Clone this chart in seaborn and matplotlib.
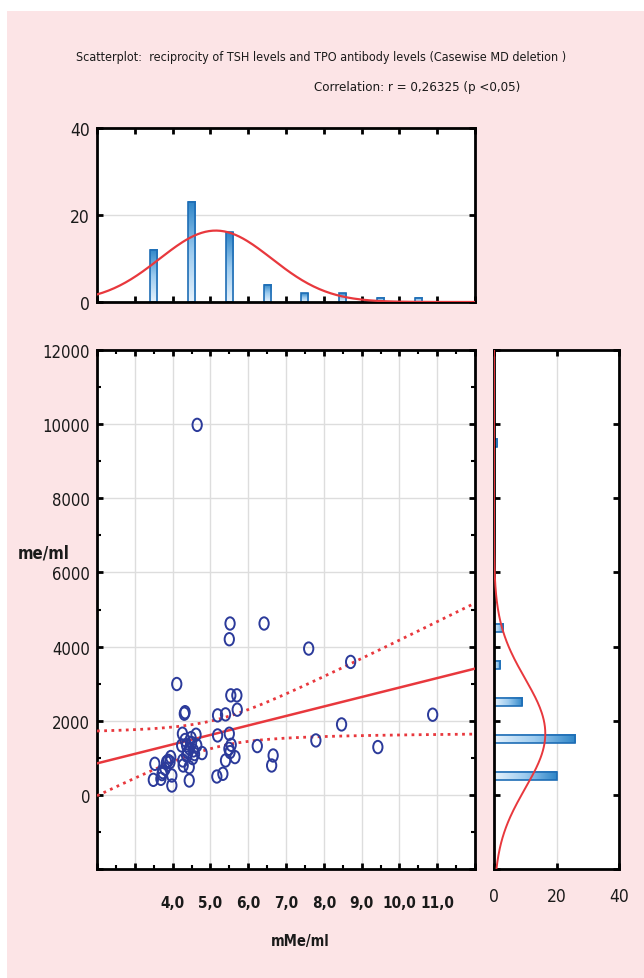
import numpy as np
import seaborn as sns
import matplotlib
matplotlib.use("Agg")
import matplotlib.pyplot as plt
from matplotlib.path import Path
from matplotlib.patches import Rectangle
from matplotlib.colors import LinearSegmentedColormap
from matplotlib.ticker import FixedLocator, MultipleLocator, FuncFormatter

# TSH (mMe/ml) vs TPO antibodies (me/ml)
tsh = [5.52, 5.50, 6.42, 7.60, 8.71, 4.11, 4.31, 4.33, 5.19, 5.40,
       5.54, 5.70, 5.71, 10.88, 8.47, 5.19, 5.50, 5.49, 6.24, 7.79,
       9.43, 6.66, 6.62, 5.65, 5.52, 5.40, 5.17, 5.33, 4.78, 4.62,
       4.49, 4.26, 4.24, 4.37, 4.55, 4.37, 4.27, 4.28, 4.44, 4.44,
       4.53, 4.64, 3.53, 3.49, 3.69, 3.74, 3.84, 3.93, 3.98, 3.98,
       3.80, 4.65, 4.45, 4.50, 4.40, 4.58, 4.33, 5.55, 3.88, 3.72,
       3.95]
tpo = [4622, 4198, 4622, 3946, 3586, 2990, 2189, 2230, 2144, 2171,
       2684, 2684, 2298, 2162, 1900, 1603, 1649, 1243, 1316, 1468,
       1289, 1062, 792, 1019, 1154, 927, 495, 568, 1127, 1622,
       1532, 1649, 1333, 1333, 1198, 1062, 927, 792, 748, 387,
       992, 1333, 838, 405, 432, 613, 883, 883, 522, 252,
       703, 9980, 1250, 1400, 1150, 1100, 1480, 1350, 920, 560,
       1020]

x_bins = np.arange(3, 12, 1)
y_bins = np.arange(0, 11000, 1000)
x_tick_values = [4, 5, 6, 7, 8, 9, 10, 11]
x_tick_labels = ["4,0", "5,0", "6,0", "7,0", "8,0", "9,0", "10,0", "11,0"]
title = "Scatterplot:  reciprocity of TSH levels and TPO antibody levels (Casewise MD deletion )"
subtitle = "Correlation: r = 0,26325 (p <0,05)"

FONT = ["DejaVu Sans"]
PINK = "#FCE4E6"
RED = "#E8383D"
BLUE = "#2B3A9A"
EDGE = "#1E6DB5"
GRID = "#DDDDDD"
TXT = "#1A1A1A"

sns.set_theme(style="white")
plt.rcParams["font.family"] = FONT
plt.rcParams["font.stretch"] = "condensed"
plt.rcParams["axes.edgecolor"] = "black"

fig = plt.figure(figsize=(6.44, 9.79), dpi=100)
fig.patch.set_facecolor("white")
fig.patches.append(Rectangle((7 / 644, 0), 1, 1 - 12 / 979, transform=fig.transFigure,
                             facecolor=PINK, edgecolor="none", zorder=-10))

W, H = 644, 979


def box(x0, y0, x1, y1):
    return [x0 / W, 1 - y1 / H, (x1 - x0) / W, (y1 - y0) / H]


ax_top = fig.add_axes(box(97, 129, 475, 303))
ax = fig.add_axes(box(97, 351, 475, 870))
ax_r = fig.add_axes(box(494, 351, 619, 870))

x = np.array(tsh)
y = np.array(tpo)
n = len(x)

# scatter with slightly tall open circles
circ = Path.unit_circle()
oval = Path(circ.vertices * [0.75, 1.0], circ.codes)
sns.scatterplot(x=x, y=y, ax=ax, marker=oval, s=80, color="none",
                edgecolor=BLUE, linewidth=1.4, zorder=4)

# linear fit with 95% confidence band for the mean
slope, inter = np.polyfit(x, y, 1)
xs = np.linspace(2, 12, 200)
fit = inter + slope * xs
resid = y - (inter + slope * x)
s_res = np.sqrt(np.sum(resid ** 2) / (n - 2))
sxx = np.sum((x - x.mean()) ** 2)
half = 2.001 * s_res * np.sqrt(1 / n + (xs - x.mean()) ** 2 / sxx)
sns.lineplot(x=xs, y=fit, ax=ax, color=RED, linewidth=1.8, zorder=3)
for band in (fit + half, fit - half):
    sns.lineplot(x=xs, y=band, ax=ax, color=RED, linewidth=2.0,
                 linestyle=(0, (1, 1.6)), zorder=3)

ax.set_xlim(2, 12)
ax.set_ylim(-2000, 12000)
ax.xaxis.set_major_locator(FixedLocator(np.arange(2, 13, 1)))
ax.xaxis.set_minor_locator(MultipleLocator(0.5))
ax.xaxis.set_major_formatter(FuncFormatter(
    lambda v, p: x_tick_labels[x_tick_values.index(int(round(v)))] if int(round(v)) in x_tick_values else ""))
ax.yaxis.set_major_locator(FixedLocator(np.arange(-2000, 12001, 2000)))
ax.yaxis.set_minor_locator(MultipleLocator(1000))
ax.yaxis.set_major_formatter(FuncFormatter(lambda v, p: "" if v < 0 else f"{int(v)}"))
ax.grid(True, color=GRID, linewidth=1)
ax.set_axisbelow(True)
ax.set_xlabel("")
ax.set_ylabel("")
ax.tick_params(axis="x", pad=19, labelsize=11, labelcolor=TXT)
ax.tick_params(axis="y", pad=5, labelsize=12, labelcolor=TXT)
for lab in ax.get_xticklabels():
    lab.set_fontweight("bold")

# top histogram (TSH)
sns.histplot(x=x, bins=x_bins, shrink=0.19, ax=ax_top, color="#7FB5E3",
             edgecolor=EDGE, linewidth=1.2)
sd_x = x.std(ddof=1)
fit_top = n * 1.0 * np.exp(-0.5 * ((xs - x.mean()) / sd_x) ** 2) / (sd_x * np.sqrt(2 * np.pi))
sns.lineplot(x=xs, y=fit_top, ax=ax_top, color=RED, linewidth=1.6, zorder=5)
ax_top.set_xlim(2, 12)
ax_top.set_ylim(0, 40)
ax_top.set_yticks([0, 20, 40])
ax_top.xaxis.set_major_locator(MultipleLocator(1))
ax_top.set_xticklabels([])
ax_top.grid(True, axis="y", color=GRID, linewidth=1)
ax_top.grid(False, axis="x")
ax_top.set_axisbelow(True)
ax_top.set_xlabel("")
ax_top.set_ylabel("")
ax_top.tick_params(axis="y", pad=5, labelsize=12.5, labelcolor=TXT)

# right histogram (TPO)
sns.histplot(y=y, bins=y_bins, shrink=0.22, ax=ax_r, color="#7FB5E3",
             edgecolor=EDGE, linewidth=1.2)
ys = np.linspace(-2000, 12000, 300)
sd_y = y.std(ddof=1)
fit_r = n * 1000 * np.exp(-0.5 * ((ys - y.mean()) / sd_y) ** 2) / (sd_y * np.sqrt(2 * np.pi))
ax_r.plot(fit_r, ys, color=RED, linewidth=1.4, zorder=5)
ax_r.set_xlim(0, 40)
ax_r.set_ylim(-2000, 12000)
ax_r.set_xticks([0, 20, 40])
ax_r.yaxis.set_major_locator(FixedLocator(np.arange(-2000, 12001, 2000)))
ax_r.set_yticklabels([])
ax_r.grid(True, axis="x", color=GRID, linewidth=1)
ax_r.grid(False, axis="y")
ax_r.set_axisbelow(True)
ax_r.set_xlabel("")
ax_r.set_ylabel("")
ax_r.tick_params(axis="x", pad=13, labelsize=12.5, labelcolor=TXT)

# gradient fill for histogram bars
cmap = LinearSegmentedColormap.from_list("bar", ["#E6F2FC", "#9CCBEF", "#2F86C8"])
for a, vertical in ((ax_top, True), (ax_r, False)):
    lims = (a.get_xlim(), a.get_ylim())
    for p in a.patches:
        x0, y0, w, h = p.get_x(), p.get_y(), p.get_width(), p.get_height()
        if w == 0 or h == 0:
            continue
        grad = np.linspace(0, 1, 64)
        img = grad.reshape(-1, 1) if vertical else grad.reshape(1, -1)
        a.imshow(img, extent=[x0, x0 + w, y0, y0 + h], origin="lower",
                 cmap=cmap, aspect="auto", zorder=1.5)
        p.set_facecolor("none")
        p.set_zorder(2)
    a.set_xlim(lims[0])
    a.set_ylim(lims[1])

for a in (ax, ax_top, ax_r):
    a.set_facecolor("white")
    for sp in a.spines.values():
        sp.set_visible(True)
        sp.set_linewidth(2.0)
        sp.set_color("black")
    a.tick_params(which="both", direction="in", top=True, right=True,
                  bottom=True, left=True, color="black")
    a.tick_params(which="major", length=4, width=2)
    a.tick_params(which="minor", length=3, width=1.5)

fig.text(0.499, 1 - 57 / H, title, ha="center", va="center", fontsize=9, color=TXT)
fig.text(0.647, 1 - 87 / H, subtitle, ha="center", va="center", fontsize=9.5, color=TXT)
fig.text(18 / W, 1 - 553 / H, "me/ml", ha="left", va="center", fontsize=12,
         fontweight="bold", color=TXT)
fig.text(300 / W, 1 - 942 / H, "mMe/ml", ha="center", va="center", fontsize=10.5,
         fontweight="bold", color=TXT)

fig.savefig("out.png", dpi=100, facecolor=fig.get_facecolor())
